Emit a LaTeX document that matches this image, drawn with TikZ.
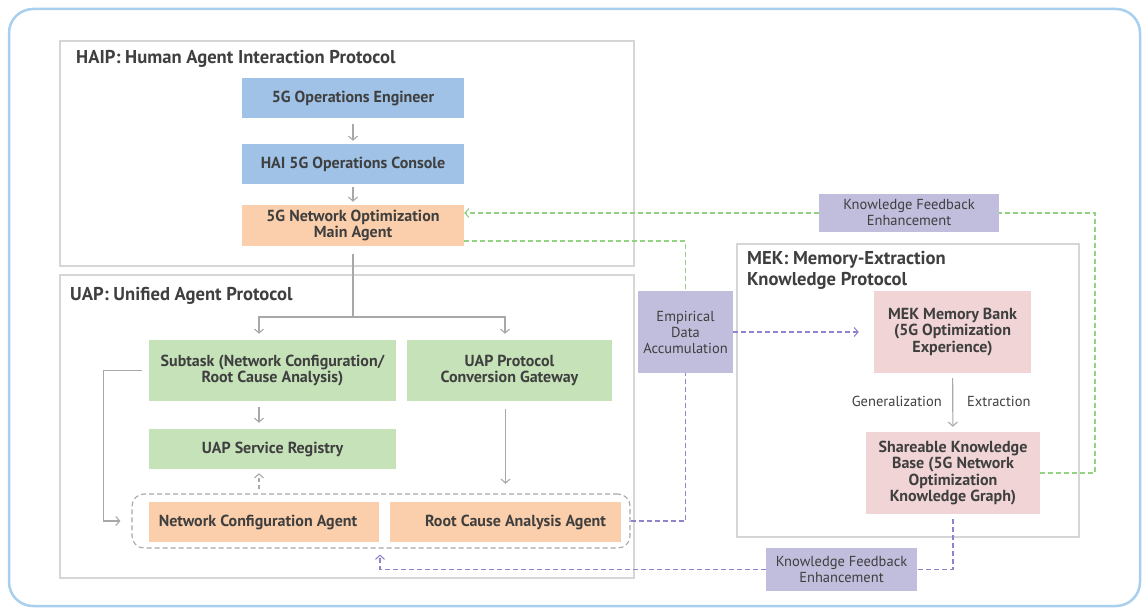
\documentclass[tikz,border=0pt]{standalone}
\usepackage{fontspec}
\setmainfont{PT Sans}
\usetikzlibrary{arrows.meta}

\definecolor{frameblue}{HTML}{A9CFEE}
\definecolor{boxgray}{HTML}{D6D6D6}
\definecolor{txt}{HTML}{3F3F3F}
\definecolor{fblue}{HTML}{9FC2E6}
\definecolor{forange}{HTML}{FBCFAB}
\definecolor{fgreen}{HTML}{C6E2B9}
\definecolor{fpurple}{HTML}{C1BDDC}
\definecolor{fpink}{HTML}{F0D4D6}
\definecolor{arrgray}{HTML}{A8A8A8}
\definecolor{dgreen}{HTML}{92D283}
\definecolor{dpurple}{HTML}{8E84CC}

\tikzset{
  box/.style={rectangle, inner sep=0pt, align=center, text=txt,
    font=\bfseries\fontsize{16}{16.5}\selectfont},
  tag/.style={rectangle, fill=fpurple, inner sep=0pt, align=center, text=txt,
    font=\fontsize{14.5}{16}\selectfont},
  frame/.style={draw=boxgray, line width=1.5pt},
  title/.style={text=txt, inner sep=0pt, font=\bfseries\fontsize{18.6}{21}\selectfont},
  lbl/.style={text=txt, inner sep=0pt, font=\fontsize{14.5}{16}\selectfont},
  tip/.style={-{Straight Barb[length=4pt,width=9pt]}},
  arr/.style={draw=arrgray, line width=1.1pt, tip},
  gline/.style={draw=arrgray, line width=1.1pt},
  gdash/.style={draw=dgreen, line width=1.1pt, dash pattern=on 5pt off 3pt},
  pdash/.style={draw=dpurple, line width=1.1pt, dash pattern=on 5pt off 3pt},
}

\begin{document}
\begin{tikzpicture}[x=1pt, y=-1pt]
\useasboundingbox (0,0) rectangle (1147,609);

% outer frame
\draw[frameblue, line width=2.5pt, rounded corners=24pt] (9,9) rectangle (1140,606);

% protocol frames
\draw[frame] (60,41) rectangle (634,266);
\draw[frame] (60,275) rectangle (634,578);
\draw[frame] (737,244) rectangle (1079,537);

\node[title, anchor=west] (thaip) at (76,58.5) {HAIP: Human Agent Interaction Protocol};
\node[title, anchor=west] (tuap) at (70,295.5) {UAP: Unified Agent Protocol};
\node[title, anchor=north west, align=left] (tmek) at (747,251) {MEK: Memory-Extraction\\Knowledge Protocol};

% HAIP nodes
\node[box, fill=fblue, minimum width=222pt, minimum height=40pt] (eng) at (353,98) {5G Operations Engineer};
\node[box, fill=fblue, minimum width=222pt, minimum height=40pt] (con) at (353,164) {HAI 5G Operations Console};
\node[box, fill=forange, minimum width=222pt, minimum height=41pt] (main) at (353,225.5) {5G Network Optimization\\Main Agent};

% UAP nodes
\node[box, fill=fgreen, minimum width=247pt, minimum height=61pt] (sub) at (272.5,370.5) {Subtask (Network Configuration/\\Root Cause Analysis)};
\node[box, fill=fgreen, minimum width=205pt, minimum height=61pt] (gw) at (509.5,370.5) {UAP Protocol\\Conversion Gateway};
\node[box, fill=fgreen, minimum width=247pt, minimum height=40pt] (reg) at (272.5,449) {UAP Service Registry};
\node[draw=arrgray, line width=1.1pt, dash pattern=on 5pt off 3pt, rounded corners=12pt,
      minimum width=498pt, minimum height=54pt, inner sep=0pt] (grp) at (381,521) {};
\node[box, fill=forange, minimum width=230pt, minimum height=40pt] (nca) at (264,522) {Network Configuration Agent\hspace*{12pt}};
\node[box, fill=forange, minimum width=231pt, minimum height=40pt] (rca) at (505.5,522) {\hspace*{20pt}Root Cause Analysis Agent};

% MEK nodes
\node[box, fill=fpink, minimum width=157pt, minimum height=82pt] (mem) at (952.5,332) {MEK Memory Bank\\(5G Optimization\\Experience)};
\node[box, fill=fpink, minimum width=174pt, minimum height=82pt] (skb) at (953,473) {Shareable Knowledge\\Base (5G Network\\Optimization\\Knowledge Graph)};

% feedback and accumulation tags
\node[tag, minimum width=95pt, minimum height=82pt] (emp) at (685.5,332) {Empirical\\Data\\Accumulation};
\node[tag, minimum width=180pt, minimum height=38pt] (kfa) at (909,213) {Knowledge Feedback\\Enhancement};
\node[tag, minimum width=151pt, minimum height=43pt] (kfb) at (841.5,569.5) {Knowledge Feedback\\Enhancement};

% HAIP flow
\draw[arr, shorten <=6pt, shorten >=3pt] (eng) -- (con);
\draw[arr, shorten <=3pt, shorten >=3pt] (con) -- (main);

% main agent dispatch
\coordinate (split) at (353,317);
\draw[gline, shorten <=8pt] (main.south) -- (split);
\draw[arr, shorten >=6pt] (split) -| ([xshift=-13.5pt]sub.north);
\draw[arr, shorten >=6pt] (split) -| ([xshift=-4.5pt]gw.north);

% UAP flow
\draw[arr, shorten <=6pt, shorten >=6pt] ([xshift=-13.5pt]sub.south) -- ([xshift=-13.5pt]reg.north);
\draw[draw=arrgray, line width=1.1pt, dash pattern=on 4pt off 3pt, tip, shorten <=4pt, shorten >=4pt]
  (grp.north -| reg.south) ++(-13.5pt,0) -- ([xshift=-13.5pt]reg.south);
\draw[arr, shorten <=8pt, shorten >=18pt] (gw.south -| rca.north) -- (rca.north);
\draw[arr, shorten <=7pt, shorten >=11pt] (sub.west) -- ++(-45,0) |- (grp.west);

% experience accumulation
\draw[gdash] ([yshift=-15.5pt]main.east) -| (emp.north);
\draw[pdash] (grp.east) -| (emp.south);
\draw[pdash, tip, shorten >=15pt] (emp.east) -- (mem.west);

% MEK internal
\draw[arr, shorten <=5pt, shorten >=5pt] (mem) -- (skb);
\node[lbl, anchor=east] (gen) at (942,401) {Generalization};
\node[lbl, anchor=west] (ext) at (967,401) {Extraction};

% knowledge feedback to the main agent
\draw[gdash] (skb.east) -- (1095,473) |- (kfa.east);
\draw[gdash, tip] (kfa.west) -- (kfa.west -| main.east);

% knowledge feedback to the agent group
\draw[pdash, shorten <=5pt] (skb.south) |- (kfb.east);
\draw[pdash, tip, shorten >=6pt] (kfb.west) -| ([xshift=-1pt]grp.south);
\end{tikzpicture}
\end{document}
